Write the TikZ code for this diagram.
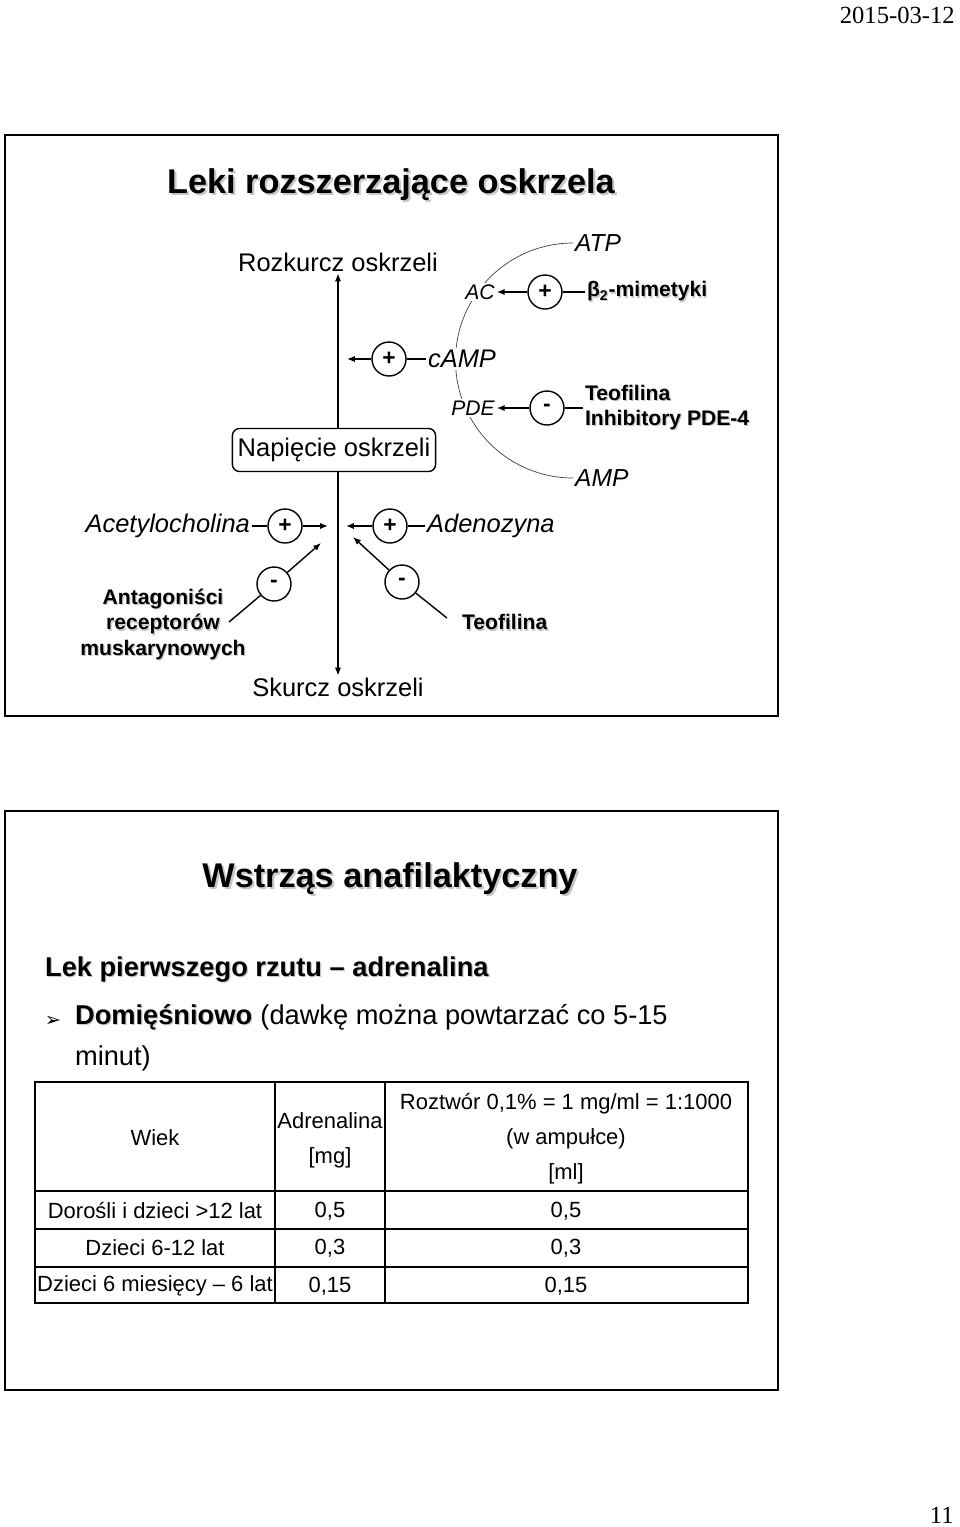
\documentclass[tikz,border=0pt]{standalone}
\usepackage{fontspec}
\setmainfont{Liberation Sans}
\newfontfamily\datefont{Liberation Serif}
\newfontfamily\symfont{DejaVu Sans}
\usetikzlibrary{arrows.meta,positioning}

\newcommand{\shd}[2][0.7pt]{\leavevmode\rlap{\kern#1\raisebox{-#1}{\color{black!22}#2}}#2}

\begin{document}
\begin{tikzpicture}[x=0.2mm, y=-0.2mm, >={Latex[length=4.5pt,width=3.6pt]},
  every node/.style={inner sep=1pt},
  signc/.style={draw, circle, line width=0.8pt, minimum size=6.8mm, inner sep=0pt, font=\fontsize{13}{13}\selectfont\bfseries},
  lbl/.style={font=\fontsize{14.5}{17}\selectfont},
  lbli/.style={font=\fontsize{14.5}{17}\selectfont\itshape},
  lblsm/.style={font=\fontsize{12}{14}\selectfont\itshape},
  boldlbl/.style={font=\fontsize{12}{14.5}\selectfont\bfseries, align=center},
  conn/.style={line width=0.8pt},
  slide/.style={line width=1.2pt},
  cell/.style={font=\fontsize{12.5}{20}\selectfont, inner sep=0pt, align=center}]

  \useasboundingbox (0,0) rectangle (960,1527);

  \node[font=\datefont\fontsize{14}{16}\selectfont, anchor=east, inner sep=0pt] (date) at (955,15) {2015-03-12};
  \node[font=\datefont\fontsize{14}{16}\selectfont, anchor=east, inner sep=0pt] (page) at (954,1515) {11};

  \draw[slide] (5,135) rectangle (778,716);
  \node[font=\fontsize{19.5}{22}\selectfont\bfseries] (title1) at (391,186) {\shd[1.2pt]{Leki rozszerzające oskrzela}};

  \node[lbl] (rozk) at (338,262) {Rozkurcz oskrzeli};
  \node[lbl, draw, rounded corners=4pt, line width=0.8pt, inner xsep=3pt, minimum height=8.6mm] (nap) at (334,450) {Napięcie oskrzeli};
  \node[lbl] (skurcz) at (338,687) {Skurcz oskrzeli};
  \draw[conn,->] (nap.north -| rozk) -- (rozk.south);
  \draw[conn,->] (nap.south -| skurcz) -- (skurcz.north);

  \node[lbli, font=\fontsize{14}{16}\selectfont\itshape, anchor=west] (atp) at (573,243) {ATP};
  \node[lbli, font=\fontsize{14}{16}\selectfont\itshape, anchor=west] (amp) at (573,478) {AMP};
  \draw[black!75] (atp.west) arc[start angle=90, end angle=270, radius=23.5mm];
  \node[lblsm, fill=white] (ac) at (480,292) {AC};
  \node[lbli, fill=white] (camp) at (462,359) {cAMP};
  \node[lblsm, fill=white] (pde) at (473,408) {PDE};

  \node[signc] (pcamp) at (389,359) {+};
  \coordinate (camptip) at (347,359);
  \draw[conn] (camp) -- (pcamp);
  \draw[conn,->] (pcamp) -- (camptip);

  \node[signc] (pac) at (545,292) {+};
  \node[boldlbl, anchor=west] (beta) at (585,292) {\shd{β\textsubscript{2}-mimetyki}};
  \draw[conn] (beta) -- (pac);
  \draw[conn,->] (pac) -- (ac);

  \node[signc] (mpde) at (547,408) {-};
  \node[boldlbl, anchor=west, align=left] (teoinh) at (583,408) {\shd{Teofilina}\\\shd{Inhibitory PDE-4}};
  \draw[conn] (teoinh) -- (mpde);
  \draw[conn,->] (mpde) -- (pde);

  \node[lbli, anchor=east] (acet) at (252,526) {Acetylocholina};
  \node[signc] (pacet) at (285,526) {+};
  \coordinate (acettip) at (328,526);
  \draw[conn] (acet) -- (pacet);
  \draw[conn,->] (pacet) -- (acettip);

  \node[lbli, anchor=west] (aden) at (425,526) {Adenozyna};
  \node[signc] (paden) at (390,526) {+};
  \coordinate (adentip) at (346,526);
  \draw[conn] (aden) -- (paden);
  \draw[conn,->] (paden) -- (adentip);

  \node[boldlbl] (antag) at (163,625) {\shd{Antagoniści}\\\shd{receptorów}\\\shd{muskarynowych}};
  \node[signc] (mantag) at (274,584) {-};
  \coordinate (antagend) at (229,622);
  \coordinate (antagtip) at (321,543);
  \draw[conn] (antagend) -- (mantag);
  \draw[conn,->] (mantag) -- (antagtip);

  \node[boldlbl, anchor=west] (teo) at (460,623) {\shd{Teofilina}};
  \node[signc] (mteo) at (402,582) {-};
  \coordinate (teoend) at (447,618);
  \coordinate (teotip) at (353,537);
  \draw[conn] (teoend) -- (mteo);
  \draw[conn,->] (mteo) -- (teotip);

  \draw[slide] (5,811) rectangle (778,1390);
  \node[font=\fontsize{19.5}{22}\selectfont\bfseries] (title2) at (390,880) {\shd[1.2pt]{Wstrząs anafilaktyczny}};
  \node[font=\fontsize{15.5}{18}\selectfont\bfseries, anchor=west] (lek) at (43,970) {\shd{Lek pierwszego rzutu – adrenalina}};
  \node[font=\symfont\fontsize{11}{12}\selectfont] (bullet) at (53,1021) {➢};
  \node[font=\fontsize{15.5}{18}\selectfont\bfseries, anchor=west] (dom) at (73,1018) {\shd{Domięśniowo}};
  \node[font=\fontsize{15.5}{18}\selectfont, base right=2.3pt of dom] (dawka) {(dawkę można powtarzać co 5-15};
  \node[font=\fontsize{15.5}{18}\selectfont, anchor=west] (minut) at (73,1058) {minut)};

  \draw[line width=1.3pt] (35,1082) rectangle (748,1303);
  \draw[line width=0.6pt] (275,1082) -- (275,1303) (385,1082) -- (385,1303);
  \draw[line width=0.6pt] (35,1191) -- (748,1191) (35,1229) -- (748,1229) (35,1267) -- (748,1267);

  \node[cell] (wiek) at (155,1138) {Wiek};
  \node[cell] (adr) at (330,1140) {Adrenalina\\{}[mg]};
  \node[cell] (roztw) at (566,1139) {Roztwór 0,1\% = 1 mg/ml = 1:1000\\(w ampułce)\\{}[ml]};
  \node[cell] (age1) at (155,1211) {Dorośli i dzieci >12 lat};
  \node[cell] (mg1) at (330,1211) {0,5};
  \node[cell] (ml1) at (566,1211) {0,5};
  \node[cell] (age2) at (155,1248) {Dzieci 6-12 lat};
  \node[cell] (mg2) at (330,1248) {0,3};
  \node[cell] (ml2) at (566,1248) {0,3};
  \node[cell] (age3) at (155,1286) {Dzieci 6 miesięcy – 6 lat};
  \node[cell] (mg3) at (330,1286) {0,15};
  \node[cell] (ml3) at (566,1286) {0,15};
\end{tikzpicture}
\end{document}
